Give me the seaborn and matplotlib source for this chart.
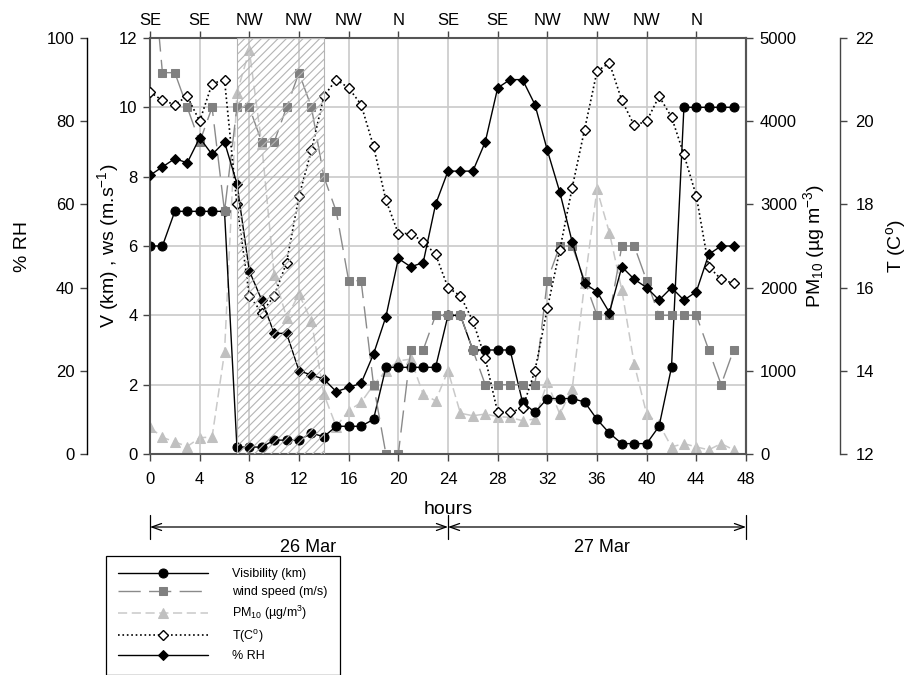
import matplotlib
matplotlib.use("Agg")
import matplotlib.pyplot as plt
import matplotlib.transforms as mtransforms
import seaborn as sns
import pandas as pd

# ---------------- data ----------------
hours = list(range(48))
visibility_km = [6, 6, 7, 7, 7, 7, 7, 0.2, 0.2, 0.2, 0.4, 0.4, 0.4, 0.6, 0.5, 0.8,
                 0.8, 0.8, 1.0, 2.5, 2.5, 2.5, 2.5, 2.5, 4, 4, 3, 3, 3, 3, 1.5, 1.2,
                 1.6, 1.6, 1.6, 1.5, 1.0, 0.6, 0.3, 0.3, 0.3, 0.8, 2.5, 10, 10, 10, 10, 10]
wind_speed_ms = [15, 11, 11, 10, 9, 10, 7, 10, 10, 9, 9, 10, 11, 10, 8, 7,
                 5, 5, 2, 0, 0, 3, 3, 4, 4, 4, 3, 2, 2, 2, 2, 2,
                 5, 6, 6, 5, 4, 4, 6, 6, 5, 4, 4, 4, 4, 3, 2, 3]
pm10_ugm3 = [320, 200, 145, 90, 195, 205, 1220, 4340, 4850, 3720, 2150, 1640, 1920, 1600, 720, 330,
             520, 620, 830, 1000, 1120, 1140, 720, 640, 1000, 490, 460, 480, 450, 440, 400, 420,
             860, 480, 780, 2050, 3180, 2660, 1970, 1080, 480, 360, 85, 125, 85, 50, 125, 50]
temperature_c = [20.7, 20.5, 20.4, 20.6, 20.0, 20.9, 21.0, 18.0, 15.8, 15.4, 15.8, 16.6, 18.2, 19.3, 20.6, 21.0,
                 20.8, 20.4, 19.4, 18.1, 17.3, 17.3, 17.1, 16.8, 16.0, 15.8, 15.2, 14.3, 13.0, 13.0, 13.1, 14.0,
                 15.5, 16.9, 18.4, 19.8, 21.2, 21.4, 20.5, 19.9, 20.0, 20.6, 20.1, 19.2, 18.2, 16.5, 16.2, 16.1]
rel_humidity = [67, 69, 71, 70, 76, 72, 75, 65, 44, 37, 29, 29, 20, 19, 18, 15,
                16, 17, 24, 33, 47, 45, 46, 60, 68, 68, 68, 75, 88, 90, 90, 84,
                73, 63, 51, 41, 39, 34, 45, 42, 40, 37, 40, 37, 39, 48, 50, 50]

direction_hours = [0, 4, 8, 12, 16, 20, 24, 28, 32, 36, 40, 44]
direction_labels = ["SE", "SE", "NW", "NW", "NW", "N", "SE", "SE", "NW", "NW", "NW", "N"]
hour_ticks = list(range(0, 49, 4))
dust_period = (7, 14)
day_bounds = [0, 24, 48]
day_labels = ["26 Mar", "27 Mar"]
day_label_hours = [12.7, 36.4]

df = pd.DataFrame({"hour": hours, "vis": visibility_km, "ws": wind_speed_ms,
                   "pm": pm10_ugm3, "t": temperature_c, "rh": rel_humidity})

# ---------------- style ----------------
sns.set_theme(style="white")
plt.rcParams["font.family"] = ["Liberation Sans", "DejaVu Sans"]
plt.rcParams["mathtext.default"] = "regular"
plt.rcParams["mathtext.fontset"] = "custom"
plt.rcParams["mathtext.rm"] = "Liberation Sans"
plt.rcParams["mathtext.it"] = "Liberation Sans:italic"
for k in ["text.color", "axes.labelcolor", "xtick.color", "ytick.color"]:
    plt.rcParams[k] = "black"
plt.rcParams["hatch.linewidth"] = 0.8

TICK_FS = 12
LABEL_FS = 14

fig = plt.figure(figsize=(9.12, 6.75), dpi=100, facecolor="white")
ax = fig.add_axes([150 / 912, (675 - 454) / 675, 596 / 912, 416 / 675])
ax_pm = ax.twinx()
ax_t = ax.twinx()
ax_rh = ax.twinx()

ax_pm.set_zorder(1)
ax.set_zorder(2)
ax_t.set_zorder(3)
ax_rh.set_zorder(4)
for a in (ax, ax_pm, ax_t, ax_rh):
    a.patch.set_visible(False)

# ---------------- series ----------------
sns.lineplot(data=df, x="hour", y="pm", ax=ax_pm, color="#c9c9c9", lw=1.1,
             linestyle=(0, (6, 3)), marker="^", markersize=6.5,
             markerfacecolor="#c0c0c0", markeredgecolor="#c0c0c0",
             label="PM$_{10}$ (\u00b5g/m$^{3}$)")
sns.lineplot(data=df, x="hour", y="vis", ax=ax, color="black", lw=1.0,
             marker="o", markersize=6.5, markerfacecolor="black",
             markeredgecolor="black", label="Visibility (km)")
sns.lineplot(data=df, x="hour", y="ws", ax=ax, color="#8a8a8a", lw=1.0,
             linestyle=(0, (16, 6)), marker="s", markersize=6.2,
             markerfacecolor="#808080", markeredgecolor="#808080",
             label="wind speed (m/s)")
sns.lineplot(data=df, x="hour", y="t", ax=ax_t, color="black", lw=1.2,
             linestyle=":", marker="D", markersize=5.6, markerfacecolor="white",
             markeredgecolor="black", markeredgewidth=1.0, label="T(C$^{o}$)")
sns.lineplot(data=df, x="hour", y="rh", ax=ax_rh, color="black", lw=1.0,
             marker="D", markersize=5.4, markerfacecolor="black",
             markeredgecolor="black", label="% RH")

for a in (ax, ax_pm, ax_t, ax_rh):
    leg = a.get_legend()
    if leg is not None:
        leg.remove()

# dust period hatch, drawn on top
ax_rh.axvspan(dust_period[0], dust_period[1], facecolor="none", edgecolor="#b4b4b4",
              hatch="////", lw=0.8, zorder=10)

# ---------------- axes ----------------
ax.set_xlim(0, 48)
ax.set_ylim(0, 12)
ax_pm.set_ylim(0, 5000)
ax_t.set_ylim(12, 22)
ax_rh.set_ylim(0, 100)

ax.set_xticks(hour_ticks)
ax.set_yticks(range(0, 13, 2))
ax_pm.set_yticks(range(0, 5001, 1000))
ax_t.set_yticks(range(12, 23, 2))
ax_rh.set_yticks(range(0, 101, 20))

ax.grid(True, color="#cacaca", lw=1.2)
ax.set_axisbelow(True)

ax.tick_params(axis="x", direction="out", length=5, width=1, labelsize=TICK_FS, pad=8,
               bottom=True, color="#444444")
ax.tick_params(axis="y", direction="out", length=5, width=1, labelsize=TICK_FS, pad=4,
               left=True, color="#444444")
for sp in ax.spines.values():
    sp.set_color("#555555")
    sp.set_linewidth(1.5)

# top direction axis
sec = ax.secondary_xaxis("top")
sec.set_xticks(direction_hours, direction_labels)
sec.tick_params(direction="out", length=5, width=1, labelsize=TICK_FS, pad=2, color="#444444")
sec.spines["top"].set_visible(False)

# PM axis (right)
for s in ("left", "top", "bottom"):
    ax_pm.spines[s].set_visible(False)
ax_pm.spines["right"].set_color("#555555")
ax_pm.spines["right"].set_linewidth(1.5)
ax_pm.tick_params(axis="y", direction="out", length=5, width=1, labelsize=TICK_FS, pad=5,
                  right=True, color="#444444")

# T axis (far right)
for s in ("left", "top", "bottom"):
    ax_t.spines[s].set_visible(False)
ax_t.spines["right"].set_position(("axes", (840 - 150) / 596))
ax_t.spines["right"].set_color("#444444")
ax_t.spines["right"].set_linewidth(1.0)
ax_t.tick_params(axis="y", direction="out", length=5, width=1, labelsize=TICK_FS, pad=6,
                 right=True, color="#444444")

# RH axis (far left)
for s in ("right", "top", "bottom"):
    ax_rh.spines[s].set_visible(False)
ax_rh.spines["left"].set_visible(True)
ax_rh.spines["left"].set_position(("axes", (87 - 150) / 596))
ax_rh.spines["left"].set_color("black")
ax_rh.spines["left"].set_linewidth(1.0)
ax_rh.yaxis.set_ticks_position("left")
ax_rh.yaxis.set_label_position("left")
ax_rh.tick_params(axis="y", direction="out", length=5, width=1, labelsize=TICK_FS, pad=4,
                  left=True, right=False, color="#444444")

# labels
ax.set_xlabel("hours", fontsize=LABEL_FS, labelpad=10)
ax.set_ylabel("V (km) , ws (m.s$^{-1}$)", fontsize=LABEL_FS)
ax.yaxis.set_label_coords((121 - 150) / 596, 0.5)
ax_rh.set_ylabel("% RH", fontsize=LABEL_FS)
ax_rh.yaxis.set_label_coords((31 - 150) / 596, 0.5)
ax_pm.set_ylabel("PM$_{10}$ (\u00b5g m$^{-3}$)", fontsize=LABEL_FS)
ax_pm.yaxis.set_label_coords((801 - 150) / 596, 0.5)
ax_t.set_ylabel("T (C$^{o}$)", fontsize=LABEL_FS)
ax_t.yaxis.set_label_coords((884 - 150) / 596, 0.5)

# ---------------- day annotation ----------------
trans = mtransforms.blended_transform_factory(ax.transData, ax.transAxes)
y_arrow = (454 - 527) / 416
y_bar0, y_bar1 = (454 - 515) / 416, (454 - 539) / 416
y_day = (454 - 548) / 416
for b in day_bounds:
    ax.plot([b, b], [y_bar0, y_bar1], transform=trans, color="black", lw=0.9, clip_on=False)
for i in range(len(day_bounds) - 1):
    ax.annotate("", xy=(day_bounds[i], y_arrow), xytext=(day_bounds[i + 1], y_arrow),
                xycoords=trans, textcoords=trans, annotation_clip=False,
                arrowprops=dict(arrowstyle="<->,head_length=0.7,head_width=0.25",
                                lw=0.9, color="black", shrinkA=0, shrinkB=0,
                                mutation_scale=10))
    ax.text(day_label_hours[i], y_day, day_labels[i], transform=trans, ha="center",
            va="center", fontsize=13)

# ---------------- legend ----------------
order = [(ax, "Visibility (km)"), (ax, "wind speed (m/s)"),
         (ax_pm, "PM$_{10}$ (\u00b5g/m$^{3}$)"), (ax_t, "T(C$^{o}$)"), (ax_rh, "% RH")]
handles, labels = [], []
for a, lab in order:
    for ln in a.get_lines():
        if ln.get_label() == lab:
            handles.append(ln)
            labels.append(lab)
            break
leg = fig.legend(handles, labels, loc="upper left",
                 bbox_to_anchor=(106 / 912, (675 - 556) / 675), bbox_transform=fig.transFigure,
                 borderaxespad=0, frameon=True, fancybox=False, edgecolor="black",
                 fontsize=9, handlelength=7.2, handletextpad=1.9, borderpad=1.0,
                 labelspacing=0.45, framealpha=1)
leg.get_frame().set_linewidth(0.9)

fig.savefig("out.png", dpi=100, facecolor="white")
